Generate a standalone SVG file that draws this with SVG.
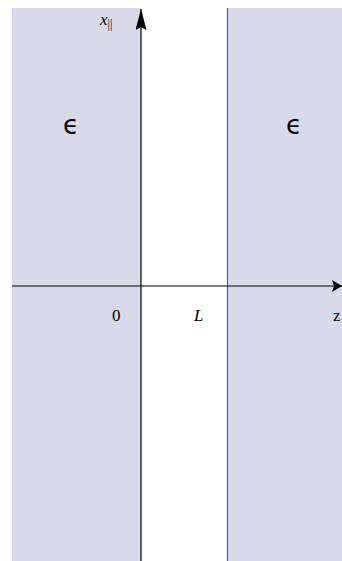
<svg xmlns="http://www.w3.org/2000/svg" width="342" height="561" viewBox="0 0 342 561">
<style>
.med{fill:#d9d9ea;stroke:none}
.ax{stroke:#000;stroke-width:1.2;fill:none}
.lbl{font-family:"Liberation Serif",serif;font-size:17px;fill:#000}
.eps{font-family:"DejaVu Sans",sans-serif;font-size:26px;fill:#000}
</style>
<defs>
<marker id="ah" viewBox="0 0 10 12" refX="10" refY="6" markerWidth="10" markerHeight="12" markerUnits="userSpaceOnUse" orient="auto">
<path d="M0,0 L10,6 L0,12 L2,6 Z" fill="#000"/>
</marker>
<marker id="ahv" viewBox="0 0 21 11" refX="21" refY="5.5" markerWidth="21" markerHeight="11" markerUnits="userSpaceOnUse" orient="auto">
<path d="M0,0 L21,5.5 L0,11 L3,5.5 Z" fill="#000"/>
</marker>
</defs>
<g id="left-medium">
<rect class="med" x="12" y="8" width="129" height="553"/>
<text class="eps" x="63" y="134">ϵ</text>
</g>
<g id="right-medium">
<rect class="med" x="227" y="8" width="115" height="553"/>
<line x1="227.5" y1="8" x2="227.5" y2="561" stroke="#5252c0" stroke-width="1.2"/>
<text class="eps" x="286" y="134">ϵ</text>
</g>
<g id="axes">
<line class="ax" x1="12" y1="286" x2="342" y2="286" marker-end="url(#ah)"/>
<line class="ax" x1="141" y1="561" x2="141" y2="9" stroke="#222" marker-end="url(#ahv)"/>
</g>
<g id="labels">
<text class="lbl" x="100" y="25" font-style="italic">x<tspan font-size="12" dy="3" font-style="normal">||</tspan></text>
<text class="lbl" x="112" y="321">0</text>
<text class="lbl" x="194" y="321" font-style="italic">L</text>
<text class="lbl" x="333" y="321">z</text>
</g>
</svg>
